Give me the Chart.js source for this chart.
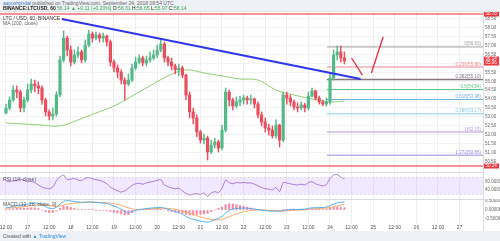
<!DOCTYPE html>
<html>
<head>
<meta charset="utf-8">
<title>LTC / USD 60</title>
<script src="https://cdn.jsdelivr.net/npm/chart.js@4.4.1/dist/chart.umd.min.js"></script>
<style>
  body { margin:0; width:500px; height:241px; position:relative; overflow:hidden; background:#fff;
         font-family:"Liberation Sans", Arial, sans-serif; }
  canvas { position:absolute; left:0; }
  #head { position:absolute; left:0; top:0; width:500px; height:12px; background:#eef1f5; border-bottom:1px solid #dde6da; box-sizing:border-box; }
  #foot { position:absolute; left:0; top:231px; width:500px; height:10px; background:#eef1f5; }
  .lbl { position:absolute; font-size:5px; line-height:5px; white-space:nowrap; color:#444; z-index:3; }
  .g { color:#3aa655; }
  .sep { position:absolute; background:#d8dbdf; z-index:2; }
</style>
</head>
<body>
<div id="head"></div>
<div class="lbl" style="left:3px;top:1px;color:#666"><span style="color:#3a78c8">aayushjindal</span> published on TradingView.com, September 24, 2018 09:54 UTC</div>
<div class="lbl" style="left:3px;top:6px;color:#222"><b>BINANCE:LTCUSD, 60</b> <span class="g">56.14 ▲ +0.11 (+0.20%)</span> O:<span class="g">56.31</span> H:<span class="g">56.65</span> L:<span class="g">55.97</span> C:<span class="g">56.14</span></div>

<canvas id="main" width="500" height="160" style="top:12px"></canvas>
<canvas id="rsi" width="500" height="26" style="top:173px"></canvas>
<canvas id="macd" width="500" height="32" style="top:199px"></canvas>

<div class="lbl" style="left:3px;top:15.5px;color:#333">LTC / USD, 60, BINANCE</div>
<div class="lbl" style="left:3px;top:21px;color:#666">MA (200, close)</div>
<div class="lbl" style="left:3px;top:176.5px;color:#555">RSI (14, close)</div>
<div class="lbl" style="left:3px;top:202px;color:#555">MACD (12, 26, close, 9)</div>

<div class="sep" style="left:0;top:172px;width:483px;height:1px"></div>
<div class="sep" style="left:0;top:198.5px;width:483px;height:1px"></div>
<div class="sep" style="left:483px;top:12px;width:1px;height:219px"></div>

<div id="foot"></div>
<div class="lbl" style="left:3px;top:233.5px;color:#555">Created with <span style="color:#2e8fd8">&#9650; TradingView</span></div>

<script>
// hours from Sep 16 12:00, one candle every 2 hours
const hours = [0,2,4,6,8,10,12,14,16,18,20,22,24,26,28,30,32,34,36,38,40,42,44,46,48,50,52,54,56,58,60,62,64,66,68,70,72,74,76,78,80,82,84,86,88,90,92,94,96,98,100,102,104,106,108,110,112,114,116,118,120,122,124,126,128,130,132,134,136,138,140,142,144,146,148,150,152,154,156,158,160,162,164,166,168,170,172,174,176,178,180,182,184,186,188];

const open = [53.22,53.50,53.95,54.51,54.40,53.50,53.95,54.51,54.85,54.74,54.62,53.95,53.28,53.05,53.16,54.23,56.20,57.43,56.76,56.08,56.48,56.65,56.20,57.04,57.66,57.43,57.60,57.43,57.54,57.21,56.08,55.75,55.52,55.07,54.85,55.07,55.75,56.08,56.31,56.03,56.20,56.31,56.48,56.76,57.10,56.31,56.08,55.86,55.64,55.75,55.35,54.23,53.28,52.94,52.15,51.70,51.81,51.03,51.42,51.59,51.25,52.26,54.40,53.95,53.61,53.84,53.95,54.06,53.95,54.01,53.72,53.11,52.71,52.38,52.26,51.93,52.54,51.70,54.23,54.06,53.84,53.56,53.50,53.67,53.50,54.17,54.46,54.06,53.84,53.72,53.84,55.19,56.48,56.65,56.31];
const high = [53.72,54.12,54.74,54.74,54.51,54.12,54.85,55.13,55.07,54.96,54.74,54.06,53.39,53.50,54.40,56.42,57.83,57.54,56.98,56.76,56.93,56.76,57.32,57.88,57.77,57.77,57.71,57.71,57.60,57.32,56.20,55.92,55.64,55.19,55.41,55.97,56.37,56.48,56.42,56.42,56.65,56.76,57.04,57.32,57.21,56.42,56.31,55.97,55.97,55.86,55.41,54.40,53.50,53.11,52.26,52.04,51.93,51.70,51.81,51.70,52.54,54.62,54.51,54.06,54.12,54.17,54.23,54.17,54.23,54.06,53.84,53.28,52.94,52.60,52.49,52.83,52.60,54.40,54.40,54.23,53.95,53.78,53.84,53.78,54.40,54.62,54.51,54.17,53.95,54.06,55.52,56.76,56.98,56.98,56.65];
const low = [53.16,53.39,53.89,54.06,53.28,53.28,53.84,54.34,54.40,54.29,53.72,53.05,52.83,52.83,53.05,54.12,56.08,56.42,55.86,55.97,56.31,56.03,56.08,56.93,57.21,57.32,57.21,57.21,56.98,55.86,55.52,55.19,54.85,53.95,54.74,54.96,55.64,55.97,55.86,55.86,56.08,56.20,56.31,56.65,56.08,55.86,55.64,55.41,55.30,55.19,53.95,52.94,52.60,51.87,51.53,51.48,50.58,50.92,51.25,51.03,51.14,52.15,53.61,53.39,53.50,53.61,53.72,53.72,53.72,53.50,52.94,52.49,52.15,51.98,51.81,51.81,51.31,51.59,53.72,53.61,53.39,53.28,53.39,53.28,53.39,54.12,53.95,53.72,53.61,53.61,53.72,55.07,56.20,56.08,55.97];
const close = [53.50,53.95,54.51,54.40,53.50,53.95,54.51,54.85,54.74,54.62,53.95,53.28,53.05,53.16,54.23,56.20,57.43,56.76,56.08,56.48,56.65,56.20,57.04,57.66,57.43,57.60,57.43,57.54,57.21,56.08,55.75,55.52,55.07,54.85,55.07,55.75,56.08,56.31,56.03,56.20,56.31,56.48,56.76,57.10,56.31,56.08,55.86,55.64,55.75,55.35,54.23,53.28,52.94,52.15,51.70,51.81,51.03,51.42,51.59,51.25,52.26,54.40,53.95,53.61,53.84,53.95,54.06,53.95,54.01,53.72,53.11,52.71,52.38,52.26,51.93,52.54,51.70,54.23,54.06,53.84,53.56,53.50,53.67,53.50,54.17,54.46,54.06,53.84,53.72,53.84,55.19,56.48,56.65,56.31,56.14];

// MA 200, read at a few points
const maHours = [0,10,20,30,40,50,60,70,80,90,100,110,120,130,140,150,160,170,180,188];
const maValues = [52.66,52.60,52.54,52.49,52.83,53.22,53.61,54.17,54.74,55.30,55.64,55.47,55.30,55.13,55.07,54.51,54.23,54.01,53.84,53.89];

const rsi = [62,60,63,62,66,63,60,61,58,52,47,44,43,47,62,72,76,65,66,68,64,63,68,70,67,65,63,60,55,47,42,38,35,38,44,51,55,56,54,57,59,61,63,65,52,48,45,43,44,38,32,28,30,31,29,33,24,33,36,34,44,64,58,55,58,57,58,57,57,54,50,46,43,42,40,46,36,58,57,55,53,52,54,52,58,60,55,52,50,53,68,76,77,71,67];
const macd = [0.12,0.15,0.20,0.24,0.27,0.30,0.33,0.36,0.38,0.37,0.30,0.18,0.10,0.08,0.15,0.32,0.48,0.52,0.50,0.47,0.45,0.43,0.44,0.46,0.44,0.42,0.40,0.38,0.36,0.30,0.22,0.14,0.04,-0.08,-0.14,-0.08,-0.02,0.03,0.05,0.08,0.10,0.12,0.13,0.14,0.10,0.04,-0.02,-0.08,-0.14,-0.24,-0.36,-0.46,-0.52,-0.57,-0.62,-0.65,-0.68,-0.62,-0.55,-0.46,-0.36,-0.16,-0.02,0.05,0.08,0.10,0.11,0.10,0.08,0.05,0.02,0.00,-0.03,-0.05,-0.07,-0.06,-0.08,-0.02,0.00,0.02,0.03,0.03,0.04,0.05,0.09,0.12,0.13,0.13,0.14,0.16,0.24,0.33,0.39,0.43,0.45];
const signal = [0.10,0.11,0.13,0.15,0.17,0.19,0.22,0.24,0.27,0.29,0.30,0.28,0.25,0.22,0.20,0.22,0.27,0.32,0.36,0.38,0.40,0.41,0.42,0.43,0.43,0.43,0.42,0.41,0.40,0.38,0.35,0.31,0.26,0.19,0.12,0.07,0.04,0.03,0.03,0.04,0.05,0.07,0.08,0.10,0.10,0.09,0.07,0.04,0.00,-0.05,-0.11,-0.18,-0.25,-0.32,-0.38,-0.44,-0.49,-0.53,-0.55,-0.55,-0.52,-0.45,-0.37,-0.29,-0.21,-0.15,-0.10,-0.06,-0.03,-0.01,0.00,0.00,-0.01,-0.02,-0.03,-0.04,-0.05,-0.05,-0.04,-0.03,-0.02,-0.01,0.00,0.01,0.03,0.05,0.07,0.09,0.10,0.11,0.14,0.18,0.23,0.28,0.32];

// drawings
const trendHours = [31, 197];
const trendPrices = [58.50, 55.13];
const arrowDownHours = [192, 198];
const arrowDownPrices = [56.31, 55.35];
const arrowUpHours = [203, 209.5];
const arrowUpPrices = [55.47, 57.49];
const levels = [58.78, 50.24];
const fibHigh = 56.93, fibLow = 52.15, fibStartHour = 178.3;
const fibRatios = [0, 0.236, 0.382, 0.5, 0.618, 0.786, 1, 1.272];
const fibColors = ['#a0a0a0', '#ee8a93', '#857682', '#5fc883', '#6fb0de', '#8ccaf0', '#b59ae2', '#9a8ce6'];

// axes
const xTickHours = [0,12,24,36,48,60,72,84,96,108,120,132,144,156,168,180,192,204,216,228,240,252];
const xTickLabels = ['12:00','17','12:00','18','12:00','19','12:00','20','12:00','21','12:00','22','12:00','23','12:00','24','12:00','25','12:00','26','12:00','27'];
const priceTicks = [50.5,51,51.5,52,52.5,53,53.5,54,54.5,55,55.5,56,56.5,57,57.5,58,58.5];
const rsiTicks = [40, 60];
const bandTop = 70, bandBottom = 30;
const macdTicks = [-0.5, 0, 0.5];

const FONT = '"Liberation Sans", Arial, sans-serif';
const UP = '#53b987', DOWN = '#eb4d5c';
const X_MIN = -3.33, X_MAX = 265;

const candleColors = close.map((c, i) => c >= open[i] ? UP : DOWN);

function xScale(showLabels) {
  return {
    type: 'linear', min: X_MIN, max: X_MAX, offset: false,
    grid: { color: '#efefef', drawTicks: false, offset: false },
    border: { display: false },
    ticks: { display: showLabels, autoSkip: false, maxRotation: 0, padding: 1, color: '#555',
             font: { size: 5, family: FONT }, callback: (v, i) => xTickLabels[i] },
    afterBuildTicks: s => { s.ticks = xTickHours.map(v => ({ value: v })); },
    afterFit: s => { s.height = showLabels ? 7 : 0; s.paddingLeft = 0; s.paddingRight = 0; }
  };
}

function yScale(min, max, ticks, fmt, gridColor) {
  return {
    type: 'linear', position: 'right', min: min, max: max,
    grid: { color: gridColor, drawTicks: false },
    border: { display: false },
    ticks: { color: '#666', padding: 2, font: { size: 4.5, family: FONT }, callback: v => fmt(v) },
    afterBuildTicks: s => { s.ticks = ticks.map(v => ({ value: v })); },
    afterFit: s => { s.width = 17; s.paddingTop = 0; s.paddingBottom = 0; }
  };
}

function pts(xs, ys) { return xs.map((x, i) => ({ x: x, y: ys[i] })); }
function flat(v, from) { return [{ x: from, y: v }, { x: X_MAX, y: v }]; }

const baseOptions = {
  responsive: false, animation: false, events: [],
  layout: { padding: 0 },
  plugins: { legend: { display: false }, tooltip: { enabled: false } }
};

// fib labels and red price boxes on the axis
const markers = {
  id: 'markers',
  afterDraw(chart) {
    const ctx = chart.ctx, a = chart.chartArea, y = chart.scales.y;
    ctx.save();
    ctx.font = '4.5px ' + FONT;
    ctx.textAlign = 'right';
    ctx.textBaseline = 'bottom';
    fibRatios.forEach((r, i) => {
      const p = fibHigh - (fibHigh - fibLow) * r;
      ctx.fillStyle = fibColors[i];
      ctx.fillText(r + '(' + p.toFixed(2) + ')', a.right - 2, y.getPixelForValue(p) - 0.5);
    });
    ctx.textAlign = 'left';
    ctx.textBaseline = 'middle';
    function box(p, h, lines) {
      const yy = y.getPixelForValue(p);
      ctx.fillStyle = '#f0363f';
      ctx.fillRect(a.right + 1, yy - h / 2, 15, h);
      ctx.fillStyle = '#fff';
      lines.forEach((t, k) => ctx.fillText(t, a.right + 2.5, yy - (lines.length - 1) * 2.2 + k * 4.4));
    }
    levels.forEach(p => box(p, 5, [p.toFixed(2)]));
    const last = close[close.length - 1];
    box(last, 9, [last.toFixed(2), '05:06']);
    ctx.restore();
  }
};

new Chart(document.getElementById('main'), {
  type: 'bar',
  data: {
    datasets: [
      ...levels.map(v => ({ type: 'line', data: flat(v, X_MIN), borderColor: 'rgba(242,54,69,0.55)', borderWidth: 2, pointRadius: 0, order: 7 })),
      ...fibRatios.map((r, i) => ({ type: 'line', data: flat(fibHigh - (fibHigh - fibLow) * r, fibStartHour),
        borderColor: fibColors[i], borderWidth: r === 0.382 ? 1.5 : 1, pointRadius: 0, order: 6 })),
      { type: 'line', data: pts(maHours, maValues), borderColor: '#8fce73', borderWidth: 1, pointRadius: 0, tension: 0.4, order: 5 },
      { data: pts(hours, hours.map((h, i) => [low[i], high[i]])), backgroundColor: candleColors,
        barThickness: 0.8, grouped: false, order: 4 },
      { data: pts(hours, hours.map((h, i) => [open[i], close[i]])), backgroundColor: candleColors,
        barThickness: 2.5, minBarLength: 1, grouped: false, order: 3 },
      { type: 'line', data: pts(trendHours, trendPrices), borderColor: '#2f36f0', borderWidth: 2, pointRadius: 0, order: 2 },
      { type: 'line', data: pts(arrowDownHours, arrowDownPrices), borderColor: '#f2283c', borderWidth: 1.3, pointRadius: 0, order: 1 },
      { type: 'line', data: pts(arrowUpHours, arrowUpPrices), borderColor: '#f2283c', borderWidth: 1.3, pointRadius: 0, order: 1 }
    ]
  },
  options: Object.assign({}, baseOptions, {
    scales: {
      x: xScale(false),
      y: yScale(49.904, 58.893, priceTicks, v => v.toFixed(2), '#f3f3f3')
    }
  }),
  plugins: [markers]
});

new Chart(document.getElementById('rsi'), {
  type: 'line',
  data: {
    datasets: [
      { data: flat(bandTop, X_MIN), borderColor: '#c9c0d8', borderWidth: 0.5, borderDash: [2, 2], pointRadius: 0 },
      { data: flat(bandBottom, X_MIN), borderColor: '#c9c0d8', borderWidth: 0.5, borderDash: [2, 2], pointRadius: 0,
        fill: '-1', backgroundColor: 'rgba(153,102,255,0.14)' },
      { data: pts(hours, rsi), borderColor: '#9b59c6', borderWidth: 0.8, pointRadius: 0, tension: 0.2 }
    ]
  },
  options: Object.assign({}, baseOptions, {
    scales: {
      x: xScale(false),
      y: yScale(18.31, 80.96, rsiTicks, v => v.toFixed(4), 'rgba(0,0,0,0)')
    }
  })
});

new Chart(document.getElementById('macd'), {
  type: 'bar',
  data: {
    datasets: [
      { data: pts(hours, macd.map((v, i) => v - signal[i])), backgroundColor: 'rgba(255,82,120,0.7)',
        barThickness: 1.4, grouped: false, order: 3 },
      { type: 'line', data: pts(hours, macd), borderColor: '#3fa9f5', borderWidth: 0.9, pointRadius: 0, tension: 0.3, order: 1 },
      { type: 'line', data: pts(hours, signal), borderColor: '#ff9f5a', borderWidth: 0.9, pointRadius: 0, tension: 0.3, order: 2 }
    ]
  },
  options: Object.assign({}, baseOptions, {
    scales: {
      x: xScale(true),
      y: yScale(-0.778, 0.611, macdTicks, v => v.toFixed(5), 'rgba(0,0,0,0)')
    }
  })
});
</script>
</body>
</html>
